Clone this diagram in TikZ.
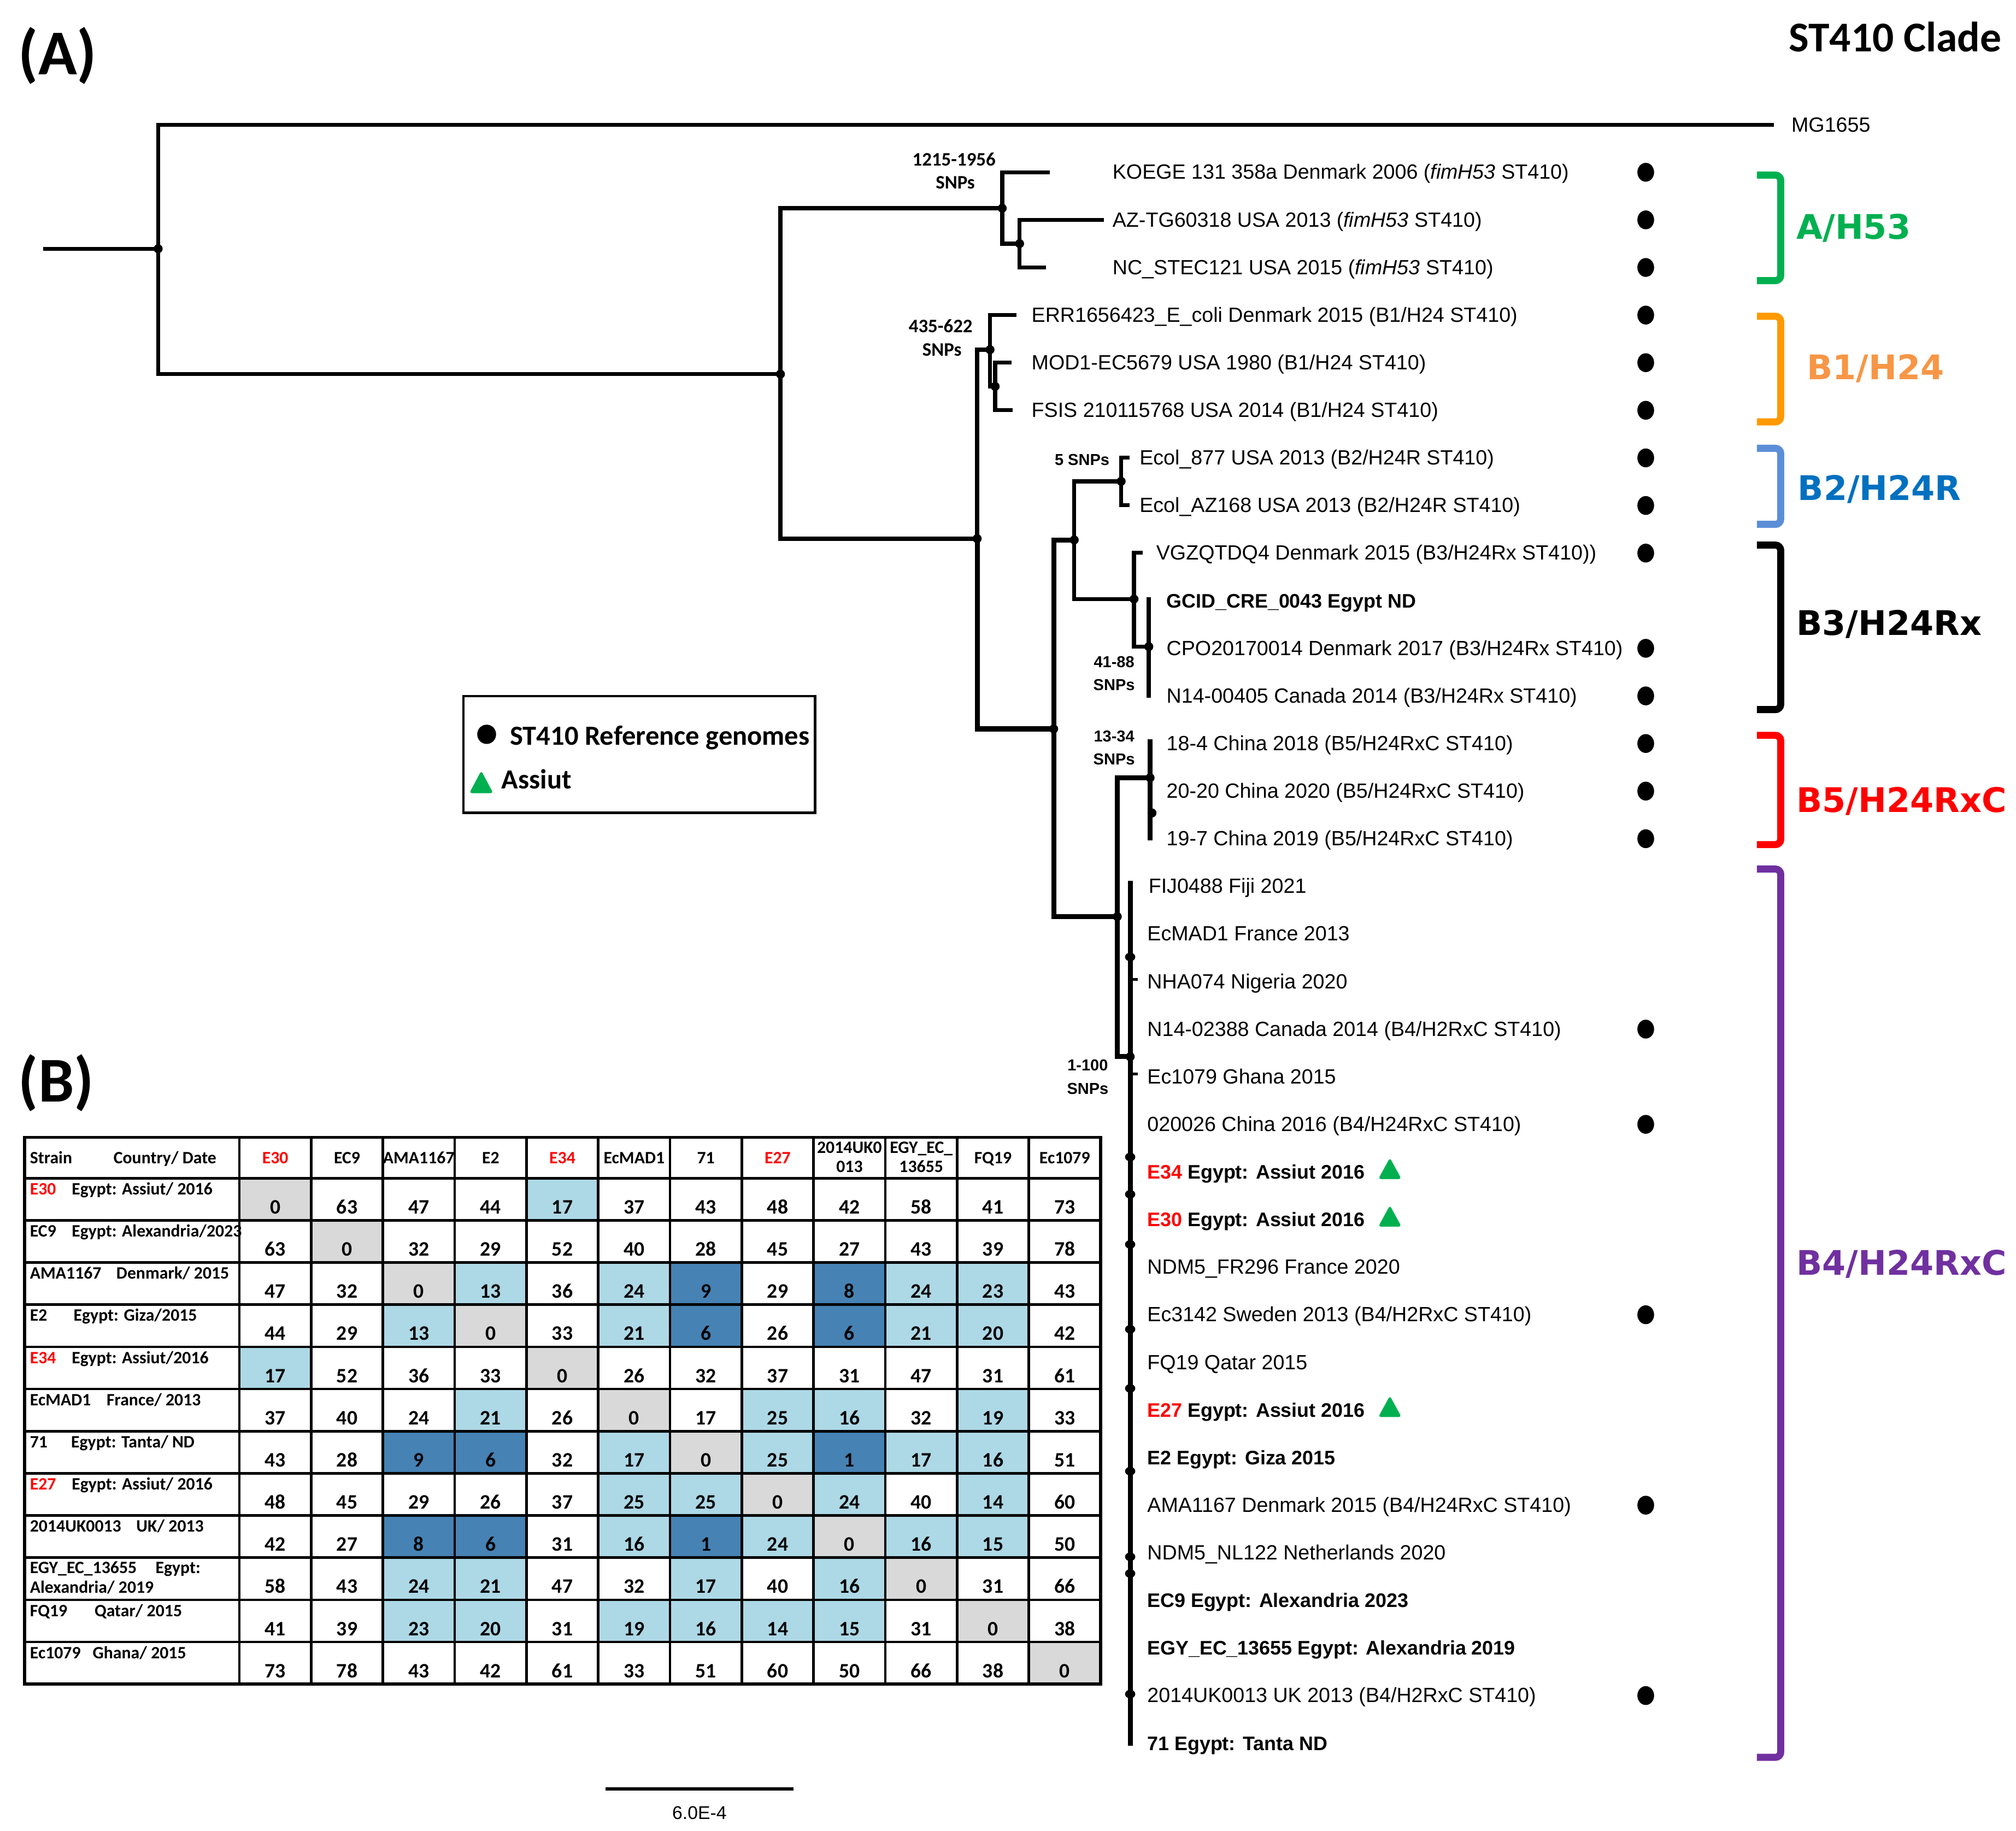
\documentclass[tikz,border=0pt]{standalone}
\usepackage{fontspec}
\setmainfont{Liberation Sans}
\newfontfamily\carl{Carlito}
\newfontfamily\dvs{DejaVu Sans}
\definecolor{cw}{HTML}{FFFFFF}
\definecolor{cg}{HTML}{D9D9D9}
\definecolor{cl}{HTML}{ADD8E6}
\definecolor{cd}{HTML}{4682B4}
\definecolor{rd}{HTML}{FF0000}
\definecolor{gn}{HTML}{00B050}
\definecolor{orb}{HTML}{FF9900}
\definecolor{ort}{HTML}{F79646}
\definecolor{blb}{HTML}{5B8ED6}
\definecolor{blt}{HTML}{0070C0}
\definecolor{pu}{HTML}{7030A0}
\begin{document}
\begin{tikzpicture}[x=0.6pt,y=-0.6pt,
  br/.style={line width=1.9pt,line cap=rect},
  brk/.style={line width=2.3pt,line cap=rect},
  tip/.style={anchor=base west,inner sep=0pt,font=\fontsize{9.6}{11}\selectfont},
  tipb/.style={anchor=base west,inner sep=0pt,font=\fontsize{9.15}{11}\selectfont\bfseries},
  snpc/.style={anchor=base,inner sep=0pt,font=\carl\bfseries\fontsize{8.9}{10}\selectfont},
  snpa/.style={anchor=base,inner sep=0pt,font=\bfseries\fontsize{7.4}{9}\selectfont},
  clade/.style={anchor=base west,inner sep=0pt,font=\dvs\bfseries\fontsize{15.8}{18}\selectfont},
  bracket/.style={line width=3.3pt,rounded corners=2.5pt},
  tlab/.style={anchor=base west,inner sep=0pt,font=\carl\bfseries\fontsize{8.1}{9.5}\selectfont},
  thead/.style={anchor=base,inner sep=0pt,font=\carl\bfseries\fontsize{8.1}{9.5}\selectfont},
  tnum/.style={anchor=base,inner sep=0pt,font=\carl\bfseries\fontsize{9.6}{11}\selectfont},
  tline/.style={line width=1.2pt},
  tri/.style={fill=gn,rounded corners=1.2pt}
]
\useasboundingbox (0,0) rectangle (1568,1424.3);

% ---------- panel labels ----------
\node[anchor=base west,inner sep=0pt,font=\carl\bfseries\fontsize{29.8}{32}\selectfont] (pA) at (14,58) {(A)};
\node[anchor=base west,inner sep=0pt,font=\carl\bfseries\fontsize{29.8}{32}\selectfont] (pB) at (14,857) {(B)};
\node[anchor=base east,inner sep=0pt,font=\carl\bfseries\fontsize{19.8}{22}\selectfont] (title) at (1557,40) {ST410 Clade};

% ---------- tree coordinates ----------
\coordinate (r0) at (35,193.5);
\coordinate (n1) at (123,193.5);
\coordinate (tMG) at (1378,97);
\coordinate (n2) at (607,291);
\coordinate (nA) at (779.5,162);
\coordinate (tKO) at (815,134);
\coordinate (nA2) at (793,189.5);
\coordinate (tAZ) at (857,171);
\coordinate (tNC) at (812,208);
\coordinate (nB) at (760,419);
\coordinate (nB1) at (770,272);
\coordinate (tERR) at (789,245);
\coordinate (nB1b) at (774,300.6);
\coordinate (tMOD) at (785,282);
\coordinate (tFS) at (786,319);
\coordinate (nC) at (819.5,567);
\coordinate (nD) at (835.5,420);
\coordinate (nB2) at (872,374.4);
\coordinate (tE877) at (877,356);
\coordinate (tE168) at (877,393);
\coordinate (nB3) at (882,466);
\coordinate (tVG) at (887,430);
\coordinate (nB3b) at (893.5,503);
\coordinate (tB3u) at (893.5,466);
\coordinate (tN14) at (893.5,541);
\coordinate (nE) at (869,713);
\coordinate (nB5) at (894.5,605);
\coordinate (t184) at (894.5,577);
\coordinate (t197) at (894.5,652);
\coordinate (nB4) at (879,822);
\coordinate (b4top) at (879,687);
\coordinate (b4bot) at (879,1356);

% ---------- tree edges ----------
\draw[br] (r0) -- (n1);
\draw[br] (n1) |- (tMG);
\draw[br] (n1) |- (n2);
\draw[br] (n2) |- (nA);
\draw[br] (nA) |- (tKO);
\draw[br] (nA) |- (nA2);
\draw[br] (nA2) |- (tAZ);
\draw[br] (nA2) |- (tNC);
\draw[br] (n2) |- (nB);
\draw[br] (nB) |- (nB1);
\draw[br] (nB1) |- (tERR);
\draw[br] (nB1) |- (nB1b);
\draw[br] (nB1b) |- (tMOD);
\draw[br] (nB1b) |- (tFS);
\draw[brk] (nB) |- (nC);
\draw[brk] (nC) |- (nD);
\draw[br] (nD) |- (nB2);
\draw[br] (nB2) |- (tE877);
\draw[br] (nB2) |- (tE168);
\draw[br] (nD) |- (nB3);
\draw[br] (nB3) |- (tVG);
\draw[br] (nB3) |- (nB3b);
\draw[br] (tB3u) -- (tN14);
\draw[brk] (nC) |- (nE);
\draw[brk] (nE) |- (nB5);
\draw[brk] (t184) -- (t197);
\draw[brk] (nE) |- (nB4);
\draw[brk] (b4top) -- (b4bot);
\draw[line width=1.2pt] (879,762) -- (885,762);
\draw[line width=1.2pt] (879,835.5) -- (885,835.5);

\foreach \c in {n1,n2,nA,nA2,nB,nB1,nB1b,nC,nD,nB2,nB3,nB3b,nE,nB5,nB4}
  \fill (\c) circle[radius=2.1pt];
\fill (896,632.4) circle[radius=2.1pt];
\foreach \yy in {744.4,900,929,968,1034,1080,1144.4,1211,1224,1317.8}
  \fill (879,\yy) ellipse[x radius=2.4pt,y radius=2pt];

% ---------- SNP labels ----------
\node[snpc] (s1a) at (742,129) {1215-1956};
\node[snpc] (s1b) at (743,147) {SNPs};
\node[snpc] (s2a) at (731.6,258.8) {435-622};
\node[snpc] (s2b) at (732.6,277) {SNPs};
\node[snpa] (s3) at (841.6,361.8) {5 SNPs};
\node[snpa] (s4a) at (866.5,519) {41-88};
\node[snpa] (s4b) at (866.5,537) {SNPs};
\node[snpa] (s5a) at (866.5,577) {13-34};
\node[snpa] (s5b) at (866.5,595) {SNPs};
\node[snpa] (s6a) at (846,833) {1-100};
\node[snpa] (s6b) at (846,851) {SNPs};

% ---------- tip labels ----------
\node[tip] (lMG) at (1393,102.7) {MG1655};
\node[tip] (l0) at (865,139.4) {KOEGE 131 358a Denmark 2006 (\textit{fimH53} ST410)};
\node[tip] (l1) at (865,176.4) {AZ-TG60318 USA 2013 (\textit{fimH53} ST410)};
\node[tip] (l2) at (865,213.5) {NC\_STEC121 USA 2015 (\textit{fimH53} ST410)};
\node[tip] (l3) at (802,250.5) {ERR1656423\_E\_coli Denmark 2015 (B1/H24 ST410)};
\node[tip] (l4) at (802,287.5) {MOD1-EC5679 USA 1980 (B1/H24 ST410)};
\node[tip] (l5) at (802,324.6) {FSIS 210115768 USA 2014 (B1/H24 ST410)};
\node[tip] (l6) at (886,361.6) {Ecol\_877 USA 2013 (B2/H24R ST410)};
\node[tip] (l7) at (886,398.6) {Ecol\_AZ168 USA 2013 (B2/H24R ST410)};
\node[tip] (l8) at (899,435.6) {VGZQTDQ4 Denmark 2015 (B3/H24Rx ST410))};
\node[tipb] (l9) at (907,472.7) {GCID\_CRE\_0043 Egypt ND};
\node[tip] (l10) at (907,509.7) {CPO20170014 Denmark 2017 (B3/H24Rx ST410)};
\node[tip] (l11) at (907,546.7) {N14-00405 Canada 2014 (B3/H24Rx ST410)};
\node[tip] (l12) at (907,583.8) {18-4 China 2018 (B5/H24RxC ST410)};
\node[tip] (l13) at (907,620.8) {20-20 China 2020 (B5/H24RxC ST410)};
\node[tip] (l14) at (907,657.8) {19-7 China 2019 (B5/H24RxC ST410)};
\node[tip] (l15) at (893,694.9) {FIJ0488 Fiji 2021};
\node[tip] (l16) at (892,731.9) {EcMAD1 France 2013};
\node[tip] (l17) at (892,768.9) {NHA074 Nigeria 2020};
\node[tip] (l18) at (892,805.9) {N14-02388 Canada 2014 (B4/H2RxC ST410)};
\node[tip] (l19) at (892,843.0) {Ec1079 Ghana 2015};
\node[tip] (l20) at (892,880.0) {020026 China 2016 (B4/H24RxC ST410)};
\node[tipb] (l21) at (892,917.0) {\textcolor{rd}{E34} Egypt: Assiut 2016};
\node[tipb] (l22) at (892,954.1) {\textcolor{rd}{E30} Egypt: Assiut 2016};
\node[tip] (l23) at (892,991.1) {NDM5\_FR296 France 2020};
\node[tip] (l24) at (892,1028.1) {Ec3142 Sweden 2013 (B4/H2RxC ST410)};
\node[tip] (l25) at (892,1065.2) {FQ19 Qatar 2015};
\node[tipb] (l26) at (892,1102.2) {\textcolor{rd}{E27} Egypt: Assiut 2016};
\node[tipb] (l27) at (892,1139.2) {E2 Egypt: Giza 2015};
\node[tip] (l28) at (892,1176.2) {AMA1167 Denmark 2015 (B4/H24RxC ST410)};
\node[tip] (l29) at (892,1213.3) {NDM5\_NL122 Netherlands 2020};
\node[tipb] (l30) at (892,1250.3) {EC9 Egypt: Alexandria 2023};
\node[tipb] (l31) at (892,1287.3) {EGY\_EC\_13655 Egypt: Alexandria 2019};
\node[tip] (l32) at (892,1324.4) {2014UK0013 UK 2013 (B4/H2RxC ST410)};
\node[tipb] (l33) at (892,1361.4) {71 Egypt: Tanta ND};

% reference-genome dots
\foreach \i in {0,1,2,3,4,5,6,7,8,10,11,12,13,14,18,20,24,28,32}
  \fill (1280,134+37.03*\i) ellipse[x radius=3.9pt,y radius=4.4pt];
% Assiut triangles
\foreach \i in {21,22,26}
  \fill[tri] (1072,134+37.03*\i+5.5) -- (1090,134+37.03*\i+5.5) -- (1081,134+37.03*\i-11) -- cycle;

% ---------- clade brackets ----------
\draw[bracket,gn] (1366.5,136.2) -- (1385,136.2) -- (1385,218.3) -- (1366.5,218.3);
\draw[bracket,orb] (1366.5,246) -- (1385,246) -- (1385,328.2) -- (1366.5,328.2);
\draw[bracket,blb] (1366.5,348.7) -- (1385,348.7) -- (1385,407.9) -- (1366.5,407.9);
\draw[bracket,black] (1366.5,424) -- (1385,424) -- (1385,552) -- (1366.5,552);
\draw[bracket,rd] (1366.5,572) -- (1385,572) -- (1385,657) -- (1366.5,657);
\draw[bracket,pu] (1366.5,676) -- (1385,676) -- (1385,1367) -- (1366.5,1367);
\node[clade,text=gn] (cA) at (1397,186) {A/H53};
\node[clade,text=ort] (cB1) at (1405,295) {B1/H24};
\node[clade,text=blt] (cB2) at (1398,389) {B2/H24R};
\node[clade,text=black] (cB3) at (1397,494) {B3/H24Rx};
\node[clade,text=rd] (cB5) at (1397,632) {B5/H24RxC};
\node[clade,text=pu] (cB4) at (1397,992) {B4/H24RxC};

% ---------- legend ----------
\draw[line width=1.2pt] (360.4,541.5) rectangle (634,632.1);
\fill (378.5,571.2) ellipse[x radius=4.4pt,y radius=4.5pt];
\node[anchor=base west,inner sep=0pt,font=\carl\bfseries\fontsize{12.9}{14}\selectfont] (leg1) at (396.4,579.7) {ST410 Reference genomes};
\fill[tri] (365,617) -- (383.6,617) -- (374.3,599.5) -- cycle;
\node[anchor=base west,inner sep=0pt,font=\carl\bfseries\fontsize{12.9}{14}\selectfont] (leg2) at (389.8,613.7) {Assiut};

% ---------- scale bar ----------
\coordinate (sb1) at (471,1391.6);
\coordinate (sb2) at (617,1391.6);
\draw[line width=1.5pt] (sb1) -- (sb2);
\node[anchor=base,inner sep=0pt,font=\fontsize{8.6}{10}\selectfont] (sbl) at (544,1415.3) {6.0E-4};

% ---------- table (B) ----------
\foreach \rowdata [count=\i from 0] in {
 {g/0,w/63,w/47,w/44,l/17,w/37,w/43,w/48,w/42,w/58,w/41,w/73},
 {w/63,g/0,w/32,w/29,w/52,w/40,w/28,w/45,w/27,w/43,w/39,w/78},
 {w/47,w/32,g/0,l/13,w/36,l/24,d/9,w/29,d/8,l/24,l/23,w/43},
 {w/44,w/29,l/13,g/0,w/33,l/21,d/6,w/26,d/6,l/21,l/20,w/42},
 {l/17,w/52,w/36,w/33,g/0,w/26,w/32,w/37,w/31,w/47,w/31,w/61},
 {w/37,w/40,w/24,l/21,w/26,g/0,w/17,l/25,l/16,w/32,l/19,w/33},
 {w/43,w/28,d/9,d/6,w/32,l/17,g/0,l/25,d/1,l/17,l/16,w/51},
 {w/48,w/45,w/29,w/26,w/37,l/25,l/25,g/0,l/24,w/40,l/14,w/60},
 {w/42,w/27,d/8,d/6,w/31,l/16,d/1,l/24,g/0,l/16,l/15,w/50},
 {w/58,w/43,l/24,l/21,w/47,w/32,l/17,w/40,l/16,g/0,w/31,w/66},
 {w/41,w/39,l/23,l/20,w/31,l/19,l/16,l/14,l/15,w/31,g/0,w/38},
 {w/73,w/78,w/43,w/42,w/61,w/33,w/51,w/60,w/50,w/66,w/38,g/0}}{
  \foreach \k/\v [count=\j from 0] in \rowdata {
    \pgfmathsetmacro{\xl}{186.2+55.82*\j}
    \pgfmathsetmacro{\yt}{916.5+32.8*\i}
    \fill[c\k] (\xl,\yt) rectangle ++(55.82,32.8);
    \node[tnum] (v\i-\j) at (\xl+27.91,\yt+27.7) {\v};
  }
}
\foreach \i in {0,...,12}{
  \pgfmathsetmacro{\yy}{916.5+32.8*\i}
  \draw[tline] (19,\yy) -- (856,\yy);
}
\foreach \j in {0,...,12}{
  \pgfmathsetmacro{\xx}{186.2+55.82*\j}
  \draw[tline] (\xx,884.7) -- (\xx,1310.1);
}
\draw[line width=1.5pt] (19,884.7) rectangle (856,1310.1);

% header
\node[tlab] (hS) at (23,905) {Strain};
\node[tlab] (hC) at (88,905) {Country/ Date};
\node[thead] (h0) at (214.1,905) {\textcolor{rd}{E30}};
\node[thead] (h1) at (269.9,905) {EC9};
\node[thead] (h2) at (325.7,905) {AMA1167};
\node[thead] (h3) at (381.6,905) {E2};
\node[thead] (h4) at (437.4,905) {\textcolor{rd}{E34}};
\node[thead] (h5) at (493.2,905) {EcMAD1};
\node[thead] (h6) at (549.0,905) {71};
\node[thead] (h7) at (604.8,905) {\textcolor{rd}{E27}};
\node[thead] (h8a) at (660.7,897) {2014UK0};
\node[thead] (h8b) at (660.7,912) {013};
\node[thead] (h9a) at (716.5,897) {EGY\_EC\_};
\node[thead] (h9b) at (716.5,912) {13655};
\node[thead] (h10) at (772.3,905) {FQ19};
\node[thead] (h11) at (828.1,905) {Ec1079};

% row labels
\node[tlab] (r0a) at (23,929.3) {\textcolor{rd}{E30}};
\node[tlab] (r0b) at (55.5,929.3) {Egypt: Assiut/ 2016};
\node[tlab] (r1a) at (23,962.1) {EC9};
\node[tlab] (r1b) at (55.5,962.1) {Egypt: Alexandria/2023};
\node[tlab] (r2a) at (23,994.9) {AMA1167};
\node[tlab] (r2b) at (90.2,994.9) {Denmark/ 2015};
\node[tlab] (r3a) at (23,1027.7) {E2};
\node[tlab] (r3b) at (56.9,1027.7) {Egypt: Giza/2015};
\node[tlab] (r4a) at (23,1060.5) {\textcolor{rd}{E34}};
\node[tlab] (r4b) at (55.5,1060.5) {Egypt: Assiut/2016};
\node[tlab] (r5a) at (23,1093.3) {EcMAD1};
\node[tlab] (r5b) at (82.6,1093.3) {France/ 2013};
\node[tlab] (r6a) at (23,1126.1) {71};
\node[tlab] (r6b) at (55,1126.1) {Egypt: Tanta/ ND};
\node[tlab] (r7a) at (23,1158.9) {\textcolor{rd}{E27}};
\node[tlab] (r7b) at (55.5,1158.9) {Egypt: Assiut/ 2016};
\node[tlab] (r8a) at (23,1191.7) {2014UK0013};
\node[tlab] (r8b) at (105.7,1191.7) {UK/ 2013};
\node[tlab] (r9a) at (23,1223.7) {EGY\_EC\_13655};
\node[tlab] (r9b) at (120.6,1223.7) {Egypt:};
\node[tlab] (r9c) at (23,1239.3) {Alexandria/ 2019};
\node[tlab] (r10a) at (23,1257.3) {FQ19};
\node[tlab] (r10b) at (73.2,1257.3) {Qatar/ 2015};
\node[tlab] (r11a) at (23,1290.1) {Ec1079};
\node[tlab] (r11b) at (71.8,1290.1) {Ghana/ 2015};
\end{tikzpicture}
\end{document}
